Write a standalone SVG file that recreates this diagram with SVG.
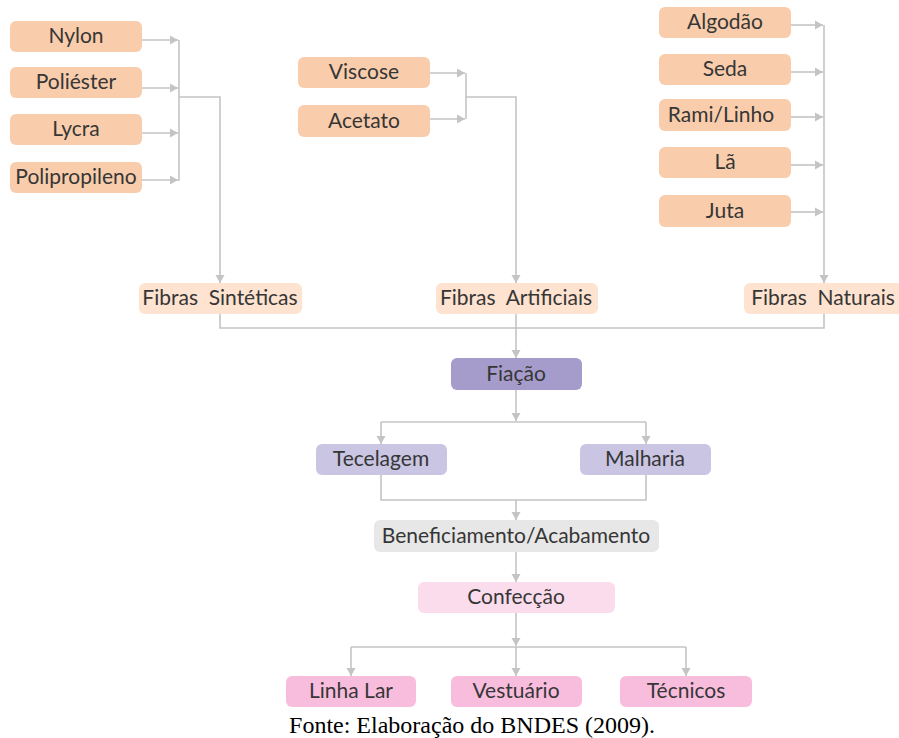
<svg xmlns="http://www.w3.org/2000/svg" width="899" height="738" viewBox="0 0 899 738">
<style>
.n rect{rx:6;ry:6}
.raw rect{fill:#F9CDAB}
.fib rect{fill:#FDE3D0}
.fia rect{fill:#A69CCC}
.tec rect{fill:#C9C5E3}
.ben rect{fill:#E7E7E7}
.con rect{fill:#FBDCEC}
.prd rect{fill:#F8BDDD}
.n text{font-family:Lato,"Open Sans","Noto Sans",sans-serif;font-size:21px;fill:#363636;text-anchor:middle}
.c path{fill:none;stroke:#C4C4C4;stroke-width:1.6}
.c path.a{marker-end:url(#ah)}
.cap{font-family:"Liberation Serif","Times New Roman",serif;font-size:24px;fill:#000;text-anchor:middle}
</style>
<defs>
<marker id="ah" markerUnits="userSpaceOnUse" markerWidth="10" markerHeight="10" viewBox="0 0 10 10" refX="9" refY="5" orient="auto">
<path d="M1,0.5 L9,5 L1,9.5 Z" fill="#C4C4C4"/>
</marker>
</defs>
<rect width="899" height="738" fill="#fff"/>

<g class="c" id="connectors">
<path class="a" d="M142,40 H178"/>
<path class="a" d="M142,88 H178"/>
<path class="a" d="M142,133 H178"/>
<path class="a" d="M142,180 H178"/>
<path d="M179,40 V181"/>
<path class="a" d="M179,97 H220 V283"/>
<path class="a" d="M430,73 H465"/>
<path class="a" d="M430,119 H465"/>
<path d="M466,73 V119"/>
<path class="a" d="M466,97 H516 V283"/>
<path class="a" d="M791,25 H823"/>
<path class="a" d="M791,72 H823"/>
<path class="a" d="M791,117 H823"/>
<path class="a" d="M791,165 H823"/>
<path class="a" d="M791,212 H823"/>
<path class="a" d="M824,25 V283"/>
<path d="M220,314 V328 H824 V314"/>
<path class="a" d="M516,314 V358"/>
<path class="a" d="M516,390 V421"/>
<path d="M381,422 H646"/>
<path class="a" d="M381,422 V444"/>
<path class="a" d="M646,422 V444"/>
<path d="M381,475 V500 H646 V475"/>
<path class="a" d="M516,500 V520"/>
<path class="a" d="M516,552 V582"/>
<path class="a" d="M516,613 V646"/>
<path d="M351,647 H686"/>
<path class="a" d="M351,647 V676"/>
<path class="a" d="M516,647 V676"/>
<path class="a" d="M686,647 V676"/>
</g>

<g id="nylon" class="n raw"><rect x="10" y="21" width="132" height="31"/><text x="76" y="43">Nylon</text></g>
<g id="poliester" class="n raw"><rect x="10" y="67" width="132" height="31"/><text x="76" y="89">Poliéster</text></g>
<g id="lycra" class="n raw"><rect x="10" y="114" width="132" height="31"/><text x="76" y="136">Lycra</text></g>
<g id="polipropileno" class="n raw"><rect x="10" y="162" width="132" height="31"/><text x="76" y="184">Polipropileno</text></g>

<g id="viscose" class="n raw"><rect x="298" y="57" width="132" height="31"/><text x="364" y="79">Viscose</text></g>
<g id="acetato" class="n raw"><rect x="298" y="105" width="132" height="32"/><text x="364" y="128">Acetato</text></g>

<g id="algodao" class="n raw"><rect x="659" y="7" width="132" height="31"/><text x="725" y="29">Algodão</text></g>
<g id="seda" class="n raw"><rect x="659" y="54" width="132" height="31"/><text x="725" y="76">Seda</text></g>
<g id="rami" class="n raw"><rect x="659" y="99" width="132" height="32"/><text x="721" y="122">Rami/Linho</text></g>
<g id="la" class="n raw"><rect x="659" y="147" width="132" height="31"/><text x="725" y="169">Lã</text></g>
<g id="juta" class="n raw"><rect x="659" y="195" width="132" height="32"/><text x="725" y="218">Juta</text></g>

<g id="sinteticas" class="n fib"><rect x="139" y="283" width="163" height="31"/><text x="220" y="305" xml:space="preserve">Fibras  Sintéticas</text></g>
<g id="artificiais" class="n fib"><rect x="436" y="283" width="162" height="31"/><text x="516" y="305" xml:space="preserve">Fibras  Artificiais</text></g>
<g id="naturais" class="n fib"><rect x="744" y="283" width="160" height="31"/><text x="823" y="305" xml:space="preserve">Fibras  Naturais</text></g>

<g id="fiacao" class="n fia"><rect x="451" y="358" width="131" height="32"/><text x="516" y="381">Fiação</text></g>
<g id="tecelagem" class="n tec"><rect x="316" y="444" width="131" height="31"/><text x="381" y="466">Tecelagem</text></g>
<g id="malharia" class="n tec"><rect x="580" y="444" width="131" height="31"/><text x="645" y="466">Malharia</text></g>
<g id="beneficiamento" class="n ben"><rect x="374" y="520" width="285" height="32"/><text x="516" y="543">Beneficiamento/Acabamento</text></g>
<g id="confeccao" class="n con"><rect x="418" y="582" width="197" height="31"/><text x="516" y="604">Confecção</text></g>
<g id="linhalar" class="n prd"><rect x="286" y="676" width="130" height="31"/><text x="351" y="698">Linha Lar</text></g>
<g id="vestuario" class="n prd"><rect x="451" y="676" width="131" height="31"/><text x="516" y="698">Vestuário</text></g>
<g id="tecnicos" class="n prd"><rect x="620" y="676" width="132" height="31"/><text x="686" y="698">Técnicos</text></g>

<text class="cap" x="472" y="733">Fonte: Elaboração do BNDES (2009).</text>
</svg>
